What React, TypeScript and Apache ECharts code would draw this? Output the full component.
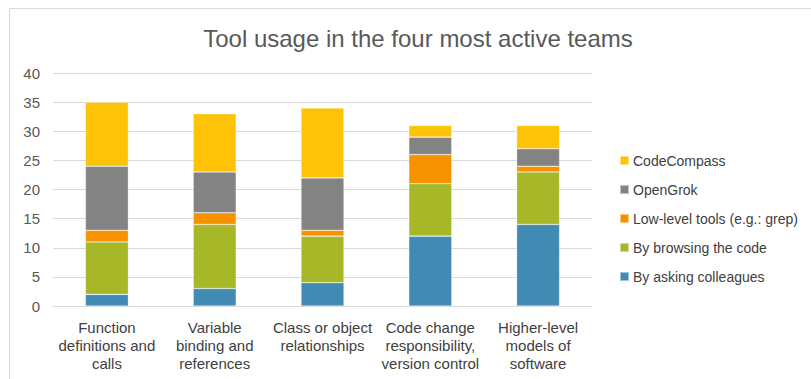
import React, { useEffect, useRef } from "react";
import * as echarts from "echarts";

const categories = [
  "Function\ndefinitions and\ncalls",
  "Variable\nbinding and\nreferences",
  "Class or object\nrelationships",
  "Code change\nresponsibility,\nversion control",
  "Higher-level\nmodels of\nsoftware",
];
const seriesNames = [
  "By asking colleagues",
  "By browsing the code",
  "Low-level tools (e.g.: grep)",
  "OpenGrok",
  "CodeCompass",
];
const asking = [2, 3, 4, 12, 14];
const browsing = [9, 11, 8, 9, 9];
const lowLevel = [2, 2, 1, 5, 1];
const openGrok = [11, 7, 9, 3, 3];
const codeCompass = [11, 10, 12, 2, 4];
const colors = ["#418AB3", "#A6B727", "#F69200", "#838383", "#FEC306"];
const yTicks = { min: 0, max: 40, interval: 5 };
const title = "Tool usage in the four most active teams";

export default function App() {
  const ref = useRef<HTMLDivElement>(null);
  useEffect(() => {
    if (!ref.current) return;
    const chart = echarts.init(ref.current, undefined, { renderer: "svg" });
    const values = [asking, browsing, lowLevel, openGrok, codeCompass];
    chart.setOption({
      animation: false,
      backgroundColor: "#ffffff",
      grid: { left: 53, right: 219, top: 73, bottom: 73, containLabel: false },
      legend: {
        orient: "vertical",
        left: 619,
        top: 153,
        padding: 0,
        itemWidth: 9,
        itemHeight: 9,
        itemGap: 14,
        icon: "rect",
        data: [...seriesNames].reverse(),
        textStyle: {
          fontFamily: "Liberation Sans",
          fontSize: 14,
          lineHeight: 15,
          color: "#404040",
          padding: [0, 0, 0, -1],
        },
        selectedMode: false,
      },
      xAxis: {
        type: "category",
        data: categories,
        axisLine: { show: true, lineStyle: { color: "#D9D9D9", width: 1 } },
        axisTick: { show: false },
        axisLabel: {
          interval: 0,
          margin: 12,
          fontFamily: "Liberation Sans",
          fontSize: 15,
          lineHeight: 18,
          color: "#404040",
        },
      },
      yAxis: {
        type: "value",
        min: yTicks.min,
        max: yTicks.max,
        interval: yTicks.interval,
        axisLine: { show: false },
        axisTick: { show: false },
        splitLine: { lineStyle: { color: "#D9D9D9", width: 1 } },
        axisLabel: {
          margin: 13,
          fontFamily: "Liberation Sans",
          fontSize: 15,
          color: "#595959",
        },
      },
      series: seriesNames.map((name, i) => ({
        name,
        type: "bar",
        stack: "total",
        data: values[i],
        barWidth: 43,
        itemStyle: {
          color: colors[i],
          borderColor: "rgba(255,255,255,0.5)",
          borderWidth: 0.6,
        },
      })),
      graphic: [
        {
          type: "line",
          shape: { x1: 9.5, y1: 8.5, x2: 811, y2: 8.5 },
          style: { stroke: "#D9D9D9", lineWidth: 1 },
        },
        {
          type: "line",
          shape: { x1: 9.5, y1: 8.5, x2: 9.5, y2: 379 },
          style: { stroke: "#D9D9D9", lineWidth: 1 },
        },
        {
          type: "text",
          x: 418,
          y: 38,
          style: {
            text: title,
            align: "center",
            verticalAlign: "middle",
            fontFamily: "Liberation Sans",
            fontSize: 24,
            fill: "#595959",
          },
        },
      ],
    });
    return () => chart.dispose();
  }, []);
  return (
    <div
      ref={ref}
      style={{ position: "absolute", left: 0, top: 0, width: 811, height: 379 }}
    />
  );
}
